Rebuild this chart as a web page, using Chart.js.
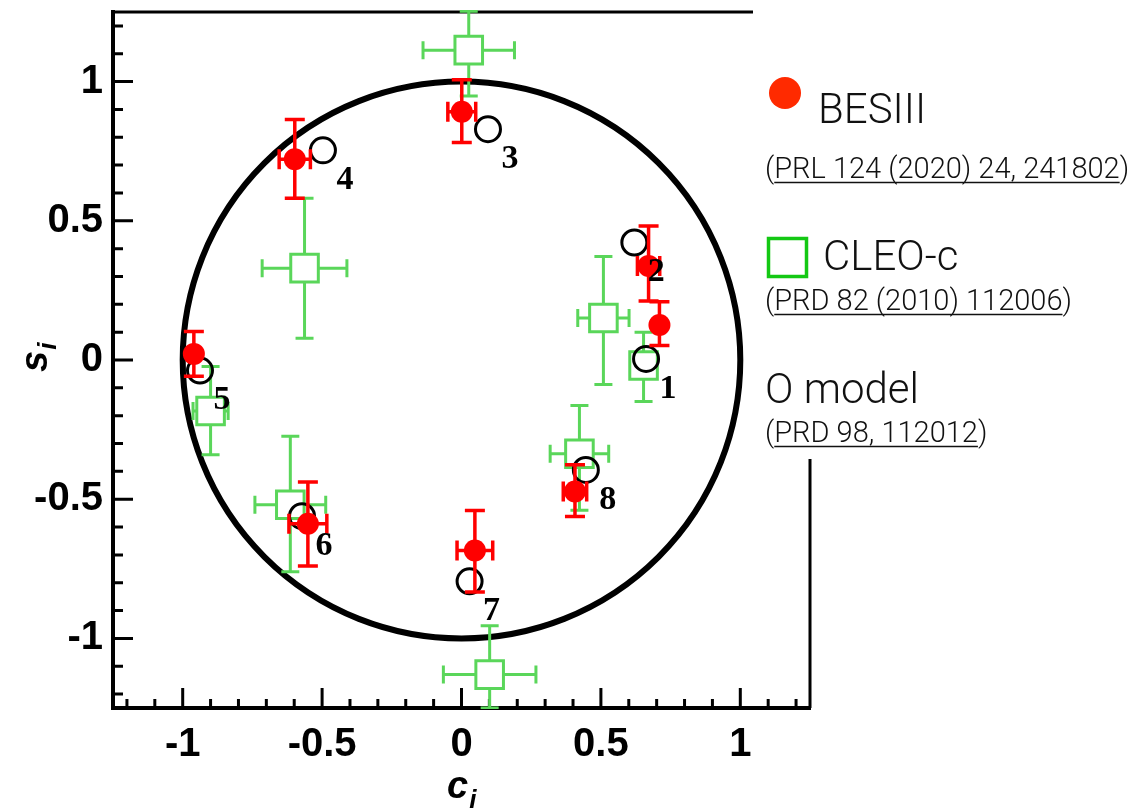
<!DOCTYPE html>
<html><head><meta charset="utf-8">
<script src="https://cdn.jsdelivr.net/npm/chart.js@4.4.0/dist/chart.umd.min.js"></script>
<style>html,body{margin:0;padding:0;background:#fff;}#wrap{width:1132px;height:809px;}</style>
</head><body><div id="wrap"><canvas id="c" width="1132" height="809"></canvas></div>
<script>
// ---- data (c_i, s_i) ----
const binLabels = ['1','2','3','4','5','6','7','8'];
const besC      = [0.710, 0.671, 0.001, -0.598, -0.960, -0.551, 0.048, 0.407];
const besS      = [0.126, 0.338, 0.892, 0.721, 0.022, -0.588, -0.684, -0.472];
const besCErr   = [0.000, 0.040, 0.050, 0.056, 0.000, 0.068, 0.064, 0.042];
const besSErrUp = [0.083, 0.143, 0.115, 0.143, 0.080, 0.150, 0.143, 0.096];
const besSErrDn = [0.074, 0.126, 0.111, 0.140, 0.080, 0.152, 0.149, 0.090];
const cleoC      = [0.653, 0.509, 0.026, -0.563, -0.900, -0.614, 0.101, 0.423];
const cleoS      = [-0.020, 0.151, 1.113, 0.330, -0.183, -0.520, -1.130, -0.337];
const cleoCErr   = [0.030, 0.092, 0.164, 0.152, 0.063, 0.127, 0.166, 0.105];
const cleoSErrUp = [0.120, 0.221, 0.140, 0.251, 0.160, 0.246, 0.175, 0.174];
const cleoSErrDn = [0.129, 0.239, 0.165, 0.252, 0.157, 0.241, 0.120, 0.203];
const modelC = [0.662, 0.620, 0.095, -0.497, -0.938, -0.572, 0.029, 0.446];
const modelS = [0.004, 0.422, 0.829, 0.753, -0.038, -0.561, -0.795, -0.395];
// axis ticks
const majorTicks = [-1, -0.5, 0, 0.5, 1];
const majorLabels = ['-1', '-0.5', '0', '0.5', '1'];
const minorTicks = [-1.2, -1.1, -0.9, -0.8, -0.7, -0.6, -0.4, -0.3, -0.2, -0.1,
                    0.1, 0.2, 0.3, 0.4, 0.6, 0.7, 0.8, 0.9, 1.1, 1.2];
const legendNames = ['BESIII', 'CLEO-c', 'O model'];
const legendRefs = ['(PRL 124 (2020) 24, 241802)', '(PRD 82 (2010) 112006)', '(PRD 98, 112012)'];
const xTitle = ['c', 'i'];
const yTitle = ['s', 'i'];

const RED = '#ff0000', GREEN = '#5ad65a';

function pts(cs, ss){ return cs.map((c,i)=>({x:c, y:ss[i]})); }

function majorIndex(v){
  return majorTicks.findIndex(m => Math.abs(m - v) < 1e-9);
}
function buildTicks(scale){
  const all = majorTicks.concat(minorTicks).sort((a,b)=>a-b);
  scale.ticks = all.map(v => ({value:v}));
}
function tickFmt(v){
  const i = majorIndex(v);
  return i < 0 ? '' : majorLabels[i];
}

const frameAndCircle = {
  id:'frameAndCircle',
  beforeDatasetsDraw(chart){
    const {ctx, scales:{x,y}, chartArea:a} = chart;
    const cx = x.getPixelForValue(0), cy = y.getPixelForValue(0);
    const rx = x.getPixelForValue(1) - cx, ry = cy - y.getPixelForValue(1);
    ctx.save();
    ctx.strokeStyle = '#000'; ctx.lineCap = 'butt';
    ctx.lineWidth = 4;
    ctx.beginPath();
    ctx.moveTo(a.left, a.top - 2); ctx.lineTo(a.left, a.bottom); ctx.lineTo(a.right + 1, a.bottom);
    ctx.stroke();
    ctx.lineWidth = 3;
    ctx.beginPath();
    ctx.moveTo(a.left, a.top); ctx.lineTo(753, a.top);
    ctx.moveTo(a.right, 459); ctx.lineTo(a.right, a.bottom);
    ctx.stroke();
    // tick marks (inside)
    ctx.lineWidth = 3;
    ctx.beginPath();
    x.ticks.forEach(t=>{
      const px = x.getPixelForValue(t.value);
      const major = majorIndex(t.value) >= 0;
      ctx.moveTo(px, a.bottom); ctx.lineTo(px, a.bottom - (major ? 20 : 9));
    });
    y.ticks.forEach(t=>{
      const py = y.getPixelForValue(t.value);
      const major = majorIndex(t.value) >= 0;
      ctx.moveTo(a.left, py); ctx.lineTo(a.left + (major ? 20 : 10), py);
    });
    ctx.stroke();
    // unit circle c^2 + s^2 = 1
    ctx.lineWidth = 6;
    ctx.beginPath();
    ctx.ellipse(cx, cy, rx, ry, 0, 0, Math.PI*2);
    ctx.stroke();
    ctx.restore();
  }
};

const errBars = {
  id:'errBars',
  beforeDatasetDraw(chart, args){
    const ds = chart.data.datasets[args.index];
    const e = ds.err; if (!e) return;
    const {ctx, chartArea:a, scales:{x,y}} = chart;
    ctx.save();
    ctx.beginPath(); ctx.rect(a.left, a.top-2, a.width, a.height+3); ctx.clip();
    ctx.strokeStyle = e.color; ctx.lineWidth = e.width; ctx.lineCap = 'butt';
    const h = e.cap/2;
    ds.data.forEach((p,i)=>{
      const px = x.getPixelForValue(p.x), py = y.getPixelForValue(p.y);
      const xl = x.getPixelForValue(p.x - e.cx[i]), xr = x.getPixelForValue(p.x + e.cx[i]);
      const yt = y.getPixelForValue(p.y + e.up[i]), yb = y.getPixelForValue(p.y - e.dn[i]);
      ctx.beginPath();
      if (px - xl > e.gap + 1) {
        ctx.moveTo(xl, py); ctx.lineTo(px - e.gap, py);
        ctx.moveTo(px + e.gap, py); ctx.lineTo(xr, py);
        ctx.moveTo(xl, py - h); ctx.lineTo(xl, py + h);
        ctx.moveTo(xr, py - h); ctx.lineTo(xr, py + h);
      }
      if (py - yt > e.gap + 1) {
        ctx.moveTo(px, yt); ctx.lineTo(px, py - e.gap);
        ctx.moveTo(px - h, yt); ctx.lineTo(px + h, yt);
      }
      if (yb - py > e.gap + 1) {
        ctx.moveTo(px, py + e.gap); ctx.lineTo(px, yb);
        ctx.moveTo(px - h, yb); ctx.lineTo(px + h, yb);
      }
      ctx.stroke();
    });
    ctx.restore();
  }
};

const labelsAndLegend = {
  id:'labelsAndLegend',
  afterDatasetsDraw(chart){
    const {ctx, scales:{x,y}} = chart;
    ctx.save();
    ctx.fillStyle = '#000';
    ctx.font = 'bold 34px "Liberation Serif"';
    ctx.textAlign = 'center'; ctx.textBaseline = 'middle';
    modelC.forEach((c,i)=>{
      ctx.fillText(binLabels[i], x.getPixelForValue(c) + 22, y.getPixelForValue(modelS[i]) + 30);
    });
    ctx.restore();
  },
  afterDraw(chart){
    const {ctx} = chart;
    ctx.save();
    ctx.fillStyle = '#000';
    ctx.textAlign = 'left'; ctx.textBaseline = 'alphabetic';
    // axis titles
    ctx.font = 'bold italic 38px "Liberation Sans"';
    const wc = ctx.measureText(xTitle[0]).width;
    ctx.fillText(xTitle[0], 447, 798);
    ctx.font = 'bold italic 26px "Liberation Sans"';
    ctx.fillText(xTitle[1], 447 + wc + 1, 808);
    ctx.save();
    ctx.translate(47, 372); ctx.rotate(-Math.PI/2);
    ctx.font = 'bold italic 38px "Liberation Sans"';
    const ws = ctx.measureText(yTitle[0]).width;
    ctx.fillText(yTitle[0], 0, 0);
    ctx.font = 'bold italic 26px "Liberation Sans"';
    ctx.fillText(yTitle[1], ws + 1, 9);
    ctx.restore();
    // legend
    ctx.fillStyle = '#ff2a00';
    ctx.beginPath(); ctx.arc(785, 93, 16, 0, Math.PI*2); ctx.fill();
    ctx.strokeStyle = '#14c814'; ctx.lineWidth = 3.5;
    ctx.strokeRect(768.5, 238.5, 38, 38);
    ctx.fillStyle = '#111';
    ctx.font = '300 42px Roboto';
    ctx.fillText(legendNames[0], 818, 123);
    ctx.fillText(legendNames[1], 823, 270);
    ctx.fillText(legendNames[2], 765, 403);
    ctx.font = '300 29px Roboto';
    const refs = [[legendRefs[0], 765, 178], [legendRefs[1], 765, 310], [legendRefs[2], 765, 442]];
    ctx.strokeStyle = '#111'; ctx.lineWidth = 1.5;
    refs.forEach(([t, tx, ty])=>{
      ctx.fillText(t, tx, ty);
      const s = tx + ctx.measureText('(').width;
      const e = tx + ctx.measureText(t.slice(0, -1)).width;
      ctx.beginPath(); ctx.moveTo(s, ty + 4.5); ctx.lineTo(e, ty + 4.5); ctx.stroke();
    });
    ctx.restore();
  }
};

const tickFont = {family:'"Liberation Sans", Arial, sans-serif', weight:'bold', size:40};

new Chart(document.getElementById('c'), {
  type:'scatter',
  data:{ datasets:[
    { label:legendNames[0], data:pts(besC, besS), pointStyle:'circle', pointRadius:11, pointHoverRadius:11,
      backgroundColor:RED, borderColor:RED, borderWidth:0,
      err:{cx:besCErr, up:besSErrUp, dn:besSErrDn, color:RED, width:3.5, cap:20, gap:0} },
    { label:legendNames[2], data:pts(modelC, modelS), pointStyle:'circle', pointRadius:12.5, pointHoverRadius:12.5,
      backgroundColor:'rgba(0,0,0,0)', borderColor:'#000', borderWidth:3 },
    { label:legendNames[1], data:pts(cleoC, cleoS), pointStyle:'rect', pointRadius:19.5, pointHoverRadius:19.5,
      backgroundColor:'rgba(0,0,0,0)', borderColor:GREEN, borderWidth:3,
      err:{cx:cleoCErr, up:cleoSErrUp, dn:cleoSErrDn, color:GREEN, width:3, cap:18, gap:14} }
  ]},
  options:{
    responsive:false, animation:false, devicePixelRatio:1,
    layout:{autoPadding:false, padding:{left:0, top:12, right:322, bottom:0}},
    plugins:{legend:{display:false}, tooltip:{enabled:false}},
    scales:{
      x:{ type:'linear', min:-1.25, max:1.25,
          afterBuildTicks: buildTicks,
          afterFit(s){ s.height = 101; s.paddingLeft = 0; s.paddingRight = 0; },
          grid:{display:false, drawTicks:false}, border:{display:false},
          ticks:{autoSkip:false, maxRotation:0, minRotation:0, padding:13, sampleSize:100,
                 color:'#000', font:tickFont, callback:tickFmt} },
      y:{ type:'linear', min:-1.25, max:1.25,
          afterBuildTicks: buildTicks,
          afterFit(s){ s.width = 113; s.paddingTop = 0; s.paddingBottom = 0; },
          grid:{display:false, drawTicks:false}, border:{display:false},
          ticks:{autoSkip:false, padding:10, sampleSize:100,
                 color:'#000', font:tickFont, callback:tickFmt} }
    }
  },
  plugins:[frameAndCircle, errBars, labelsAndLegend]
});
</script>
</body></html>
